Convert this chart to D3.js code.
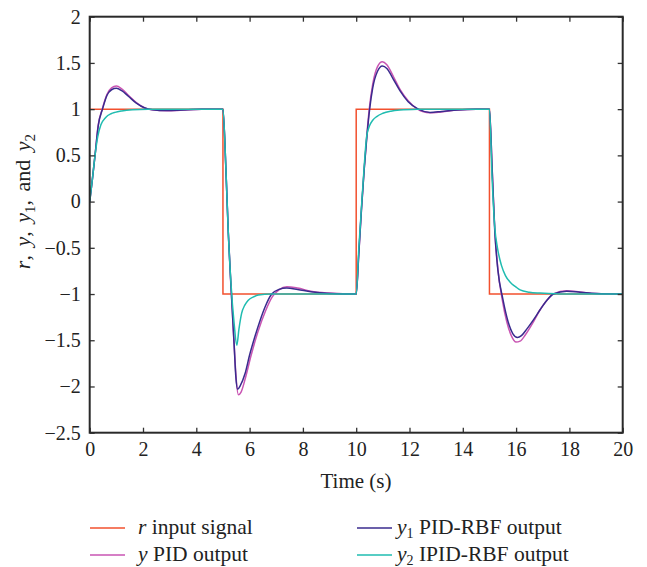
<!DOCTYPE html>
<html>
<head>
<meta charset="utf-8">
<script src="https://cdn.jsdelivr.net/npm/d3@7"></script>
<style>
  body { margin: 0; background: #fff; }
  text { font-family: "Liberation Serif", "DejaVu Serif", serif; fill: #222; }
</style>
</head>
<body>
<div id="chart-area"></div>
<script>
// step reference r
let rInput = [[0, 1], [5, 1], [5, -1], [10, -1], [10, 1], [15, 1], [15, -1], [20, -1]];

// y: PID output
let yPid = [[0, 0], [0.1, 0.24], [0.2, 0.5], [0.32, 0.83], [0.47, 1.0], [0.65, 1.16], [0.82, 1.23], [1.0, 1.25],
  [1.2, 1.22], [1.45, 1.15], [1.75, 1.07], [2.05, 1.015], [2.35, 0.993], [2.9, 0.982], [3.5, 0.99], [4.2, 0.998], [5.0, 1.0],
  [5.11, 0.35], [5.2, -0.34], [5.3, -0.92], [5.42, -1.55], [5.5, -1.93], [5.58, -2.09], [5.68, -2.06], [5.85, -1.9],
  [6.05, -1.67], [6.3, -1.42], [6.6, -1.18], [6.85, -1.03], [7.1, -0.955], [7.4, -0.92], [7.8, -0.935], [8.3, -0.97],
  [9.0, -0.99], [10.0, -1.0],
  [10.1, -0.55], [10.2, -0.08], [10.3, 0.35], [10.4, 0.72], [10.49, 1.0], [10.62, 1.27], [10.8, 1.46], [10.98, 1.513],
  [11.15, 1.48], [11.4, 1.35], [11.65, 1.21], [11.95, 1.09], [12.3, 1.0], [12.75, 0.96], [13.2, 0.97], [13.8, 0.99],
  [14.5, 1.0], [15.0, 1.0],
  [15.1, 0.37], [15.2, -0.3], [15.32, -0.74], [15.48, -1.06], [15.65, -1.3], [15.82, -1.45], [16.0, -1.52], [16.15, -1.51],
  [16.35, -1.44], [16.65, -1.3], [16.9, -1.17], [17.15, -1.07], [17.4, -1.0], [17.9, -0.965], [18.4, -0.978],
  [19.0, -0.995], [20.0, -1.0]];

// y1: PID-RBF output
let y1Rbf = [[0, 0], [0.1, 0.24], [0.2, 0.5], [0.32, 0.82], [0.48, 1.0], [0.65, 1.15], [0.82, 1.21], [1.0, 1.225],
  [1.2, 1.2], [1.45, 1.14], [1.75, 1.065], [2.05, 1.015], [2.35, 0.994], [2.9, 0.984], [3.5, 0.992], [4.2, 0.998], [5.0, 1.0],
  [5.11, 0.36], [5.2, -0.33], [5.3, -0.9], [5.42, -1.55], [5.48, -1.88], [5.55, -2.03], [5.65, -1.99], [5.83, -1.86],
  [6.0, -1.66], [6.2, -1.46], [6.4, -1.28], [6.58, -1.14], [6.83, -1.0], [7.1, -0.95], [7.39, -0.935], [7.8, -0.95],
  [8.3, -0.975], [9.0, -0.993], [10.0, -1.0],
  [10.1, -0.55], [10.2, -0.07], [10.3, 0.35], [10.4, 0.7], [10.5, 0.99], [10.62, 1.23], [10.8, 1.41], [10.98, 1.466],
  [11.15, 1.44], [11.4, 1.32], [11.64, 1.2], [11.95, 1.08], [12.33, 1.0], [12.77, 0.965], [13.2, 0.975], [13.8, 0.992],
  [14.5, 1.0], [15.0, 1.0],
  [15.1, 0.36], [15.2, -0.32], [15.32, -0.75], [15.5, -1.05], [15.7, -1.3], [15.88, -1.43], [16.05, -1.47], [16.2, -1.45],
  [16.4, -1.38], [16.65, -1.28], [16.9, -1.17], [17.15, -1.07], [17.4, -1.0], [17.9, -0.97], [18.4, -0.98],
  [19.0, -0.995], [20.0, -1.0]];

// y2: IPID-RBF output
let y2Ipid = [[0, 0], [0.1, 0.24], [0.2, 0.5], [0.3, 0.7], [0.42, 0.83], [0.6, 0.91], [0.8, 0.95], [0.95, 0.965],
  [1.2, 0.98], [1.6, 0.993], [2.2, 0.999], [3.0, 1.0], [5.0, 1.0],
  [5.11, 0.36], [5.2, -0.33], [5.3, -0.88], [5.42, -1.32], [5.52, -1.553], [5.6, -1.38], [5.7, -1.21], [5.82, -1.12],
  [5.95, -1.066], [6.15, -1.03], [6.33, -1.01], [6.8, -1.0], [10.0, -1.0],
  [10.1, -0.5], [10.2, -0.05], [10.3, 0.38], [10.39, 0.7], [10.5, 0.82], [10.62, 0.88], [10.77, 0.92], [11.0, 0.955],
  [11.3, 0.978], [11.64, 0.99], [12.3, 0.998], [13.0, 1.0], [15.0, 1.0],
  [15.1, 0.25], [15.2, -0.28], [15.3, -0.5], [15.45, -0.69], [15.6, -0.8], [15.77, -0.87], [16.0, -0.925],
  [16.15, -0.955], [16.5, -0.98], [16.9, -0.99], [17.5, -0.998], [18.5, -1.0], [20.0, -1.0]];

let xTicks = [0, 2, 4, 6, 8, 10, 12, 14, 16, 18, 20];
let yTicks = [-2.5, -2, -1.5, -1, -0.5, 0, 0.5, 1, 1.5, 2];

let series = [
  { data: rInput, color: "#f2502e", label: "r", rest: " input signal", sub: "" },
  { data: yPid, color: "#c955b3", label: "y", rest: " PID output", sub: "" },
  { data: y1Rbf, color: "#3a2b8e", label: "y", rest: " PID-RBF output", sub: "1" },
  { data: y2Ipid, color: "#1fbcb0", label: "y", rest: " IPID-RBF output", sub: "2" }
];

let w = 647;
let h = 567;
let plotLeft = 89.7, plotRight = 622.7, plotTop = 16.7, plotBottom = 432.7;

let svg = d3.select("#chart-area").append("svg")
  .attr("width", w)
  .attr("height", h);

let xScale = d3.scaleLinear().domain([0, 20]).range([plotLeft, plotRight]);
let yScale = d3.scaleLinear().domain([-2.5, 2]).range([plotBottom, plotTop]);

let fmt = (d) => d < 0 ? "\u2212" + Math.abs(d) : "" + d;

// lines
let stepLine = d3.line().x(d => xScale(d[0])).y(d => yScale(d[1]));
let smoothLine = d3.line().x(d => xScale(d[0])).y(d => yScale(d[1])).curve(d3.curveMonotoneX);

series.forEach((s, i) => {
  svg.append("path")
    .datum(s.data)
    .attr("fill", "none")
    .attr("stroke", s.color)
    .attr("stroke-width", 1.5)
    .attr("d", i == 0 ? stepLine : smoothLine);
});

// axes, ticks pointing inward on all sides
let axisStyle = (g) => {
  g.select(".domain").remove();
  g.selectAll(".tick line").attr("stroke", "#333").attr("stroke-width", 1.3);
  g.selectAll("text").style("font-size", "20px").attr("fill", "#222")
    .attr("font-family", "Liberation Serif");
};

svg.append("g")
  .attr("transform", "translate(0," + plotBottom + ")")
  .call(d3.axisBottom(xScale).tickValues(xTicks).tickSize(-5).tickPadding(9).tickFormat(fmt))
  .call(axisStyle);

svg.append("g")
  .attr("transform", "translate(0," + plotTop + ")")
  .call(d3.axisTop(xScale).tickValues(xTicks).tickSize(-5).tickFormat(""))
  .call(axisStyle);

svg.append("g")
  .attr("transform", "translate(" + plotLeft + ",0)")
  .call(d3.axisLeft(yScale).tickValues(yTicks).tickSize(-5).tickPadding(9).tickFormat(fmt))
  .call(axisStyle);

svg.append("g")
  .attr("transform", "translate(" + plotRight + ",0)")
  .call(d3.axisRight(yScale).tickValues(yTicks).tickSize(-5).tickFormat(""))
  .call(axisStyle);

svg.append("rect")
  .attr("x", plotLeft).attr("y", plotTop)
  .attr("width", plotRight - plotLeft).attr("height", plotBottom - plotTop)
  .attr("fill", "none")
  .attr("stroke", "#2a2a2a")
  .attr("stroke-width", 2);

// axis titles
svg.append("text")
  .attr("x", 356).attr("y", 488)
  .attr("text-anchor", "middle")
  .style("font-size", "21px")
  .text("Time (s)");

let yl = svg.append("text")
  .attr("transform", "translate(30," + yScale(0) + ") rotate(-90)")
  .attr("text-anchor", "middle")
  .style("font-size", "22px")
  .style("word-spacing", "3px");
yl.append("tspan").attr("font-style", "italic").text("r");
yl.append("tspan").text(", ");
yl.append("tspan").attr("font-style", "italic").text("y");
yl.append("tspan").text(", ");
yl.append("tspan").attr("font-style", "italic").text("y");
yl.append("tspan").attr("dy", 5).style("font-size", "15px").text("1");
yl.append("tspan").attr("dy", -5).text(", and ");
yl.append("tspan").attr("font-style", "italic").text("y");
yl.append("tspan").attr("dy", 5).style("font-size", "15px").text("2");

// legend
let legendPos = [[90, 528], [90, 555], [357, 528], [357, 555]];
series.forEach((s, i) => {
  let p = legendPos[i];
  svg.append("line")
    .attr("x1", p[0]).attr("x2", p[0] + 35)
    .attr("y1", p[1]).attr("y2", p[1])
    .attr("stroke", s.color)
    .attr("stroke-width", 1.5);
  let t = svg.append("text")
    .attr("x", p[0] + (i < 2 ? 48 : 40))
    .attr("y", p[1] + 5.5)
    .style("font-size", "21.5px");
  t.append("tspan").attr("font-style", "italic").text(s.label);
  if (s.sub) {
    t.append("tspan").attr("dy", 4).style("font-size", "14px").text(s.sub);
    t.append("tspan").attr("dy", -4).text(s.rest);
  } else {
    t.append("tspan").text(s.rest);
  }
});
</script>
</body>
</html>
